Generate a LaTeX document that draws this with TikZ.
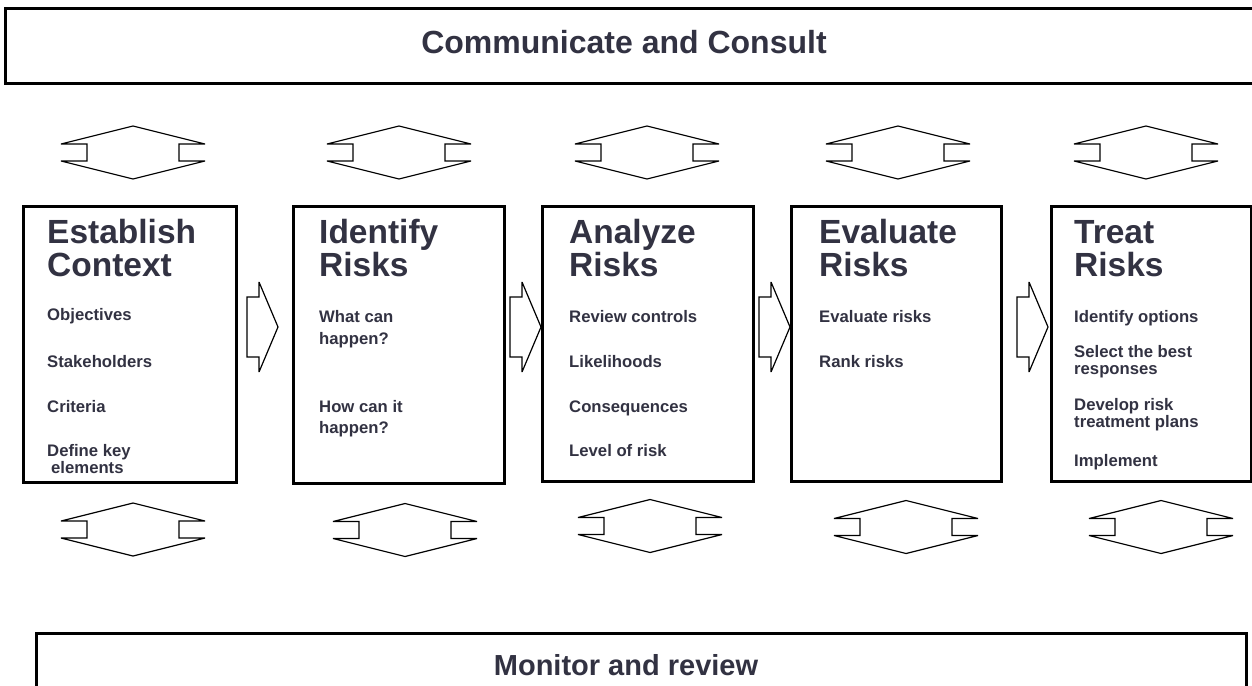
\documentclass[tikz,border=0pt]{standalone}
\usepackage{fontspec}
\setmainfont{Liberation Sans}
\definecolor{txt}{RGB}{50,50,66}
\begin{document}
\begin{tikzpicture}[x=1pt,y=-1pt,
  bigbox/.style={draw=black,line width=2.6pt,fill=white,inner sep=0pt,anchor=north west},
  procbox/.style={draw=black,line width=2.6pt,fill=white,inner sep=0pt,anchor=north west},
  hdr/.style={font=\fontsize{32}{32}\selectfont\bfseries,text=txt,inner sep=0pt,anchor=base},
  ttl/.style={font=\fontsize{33.5}{31}\selectfont\bfseries,text=txt,inner sep=0pt,anchor=base west},
  itm/.style={font=\fontsize{16.7}{17}\selectfont\bfseries,text=txt,inner sep=0pt,anchor=base west},
  arrowline/.style={draw=black,line width=1.2pt,line join=miter,miter limit=1.5,fill=white},
  updown/.pic={\path[arrowline] (0,-26.5) -- (72,-8.5) -- (46,-8.5) -- (46,8.5) -- (72,8.5) -- (0,26.5) -- (-72,8.5) -- (-46,8.5) -- (-46,-8.5) -- (-72,-8.5) -- cycle;},
  rightarrow/.pic={\path[arrowline] (0,0) -- (-19,-45) -- (-19,-30) -- (-31,-30) -- (-31,30) -- (-19,30) -- (-19,45) -- cycle;}
]
\useasboundingbox (0,0) rectangle (1252,685);
\clip (0,0) rectangle (1252,685);
\fill[white] (0,0) rectangle (1252,685);

% top and bottom bands
\node[bigbox,minimum width=1265pt,minimum height=75pt] (cc) at (4,7) {};
\node[hdr] (cctext) at (624,54) {Communicate and Consult};
\node[bigbox,minimum width=1210pt,minimum height=80pt] (mr) at (35,632) {};
\node[hdr,font=\fontsize{29}{29}\selectfont\bfseries] (mrtext) at (626,675) {Monitor and review};

% process boxes
\node[procbox,minimum width=213pt,minimum height=276pt] (b1) at (22,205) {};
\node[procbox,minimum width=211pt,minimum height=277pt] (b2) at (292,205) {};
\node[procbox,minimum width=211pt,minimum height=275pt] (b3) at (541,205) {};
\node[procbox,minimum width=210pt,minimum height=275pt] (b4) at (790,205) {};
\node[procbox,minimum width=200pt,minimum height=275pt] (b5) at (1050,205) {};

% block arrows between boxes
\pic (r1) at (278,327) {rightarrow};
\pic (r2) at (541,327) {rightarrow};
\pic (r3) at (790,327) {rightarrow};
\pic (r4) at (1048,327) {rightarrow};

% up-down arrows
\pic (u1) at (133,152.5) {updown};
\pic (u2) at (399,152.5) {updown};
\pic (u3) at (647,152.5) {updown};
\pic (u4) at (898,152.5) {updown};
\pic (u5) at (1146,152.5) {updown};
\pic (d1) at (133,529.5) {updown};
\pic (d2) at (405,530) {updown};
\pic (d3) at (650,526) {updown};
\pic (d4) at (906,527) {updown};
\pic (d5) at (1161,527) {updown};

% box 1
\node[ttl] (t1a) at (47,243) {Establish};
\node[ttl] (t1b) at (47,276) {Context};
\node[itm] (i1a) at (47,320) {Objectives};
\node[itm] (i1b) at (47,367) {Stakeholders};
\node[itm] (i1c) at (47,412) {Criteria};
\node[itm] (i1d) at (47,456) {Define key};
\node[itm] (i1e) at (51,473) {elements};

% box 2
\node[ttl] (t2a) at (319,243) {Identify};
\node[ttl] (t2b) at (319,276) {Risks};
\node[itm] (i2a) at (319,322) {What can};
\node[itm] (i2b) at (319,344) {happen?};
\node[itm] (i2c) at (319,412) {How can it};
\node[itm] (i2d) at (319,433) {happen?};

% box 3
\node[ttl] (t3a) at (569,243) {Analyze};
\node[ttl] (t3b) at (569,276) {Risks};
\node[itm] (i3a) at (569,322) {Review controls};
\node[itm] (i3b) at (569,367) {Likelihoods};
\node[itm] (i3c) at (569,412) {Consequences};
\node[itm] (i3d) at (569,456) {Level of risk};

% box 4
\node[ttl] (t4a) at (819,243) {Evaluate};
\node[ttl] (t4b) at (819,276) {Risks};
\node[itm] (i4a) at (819,322) {Evaluate risks};
\node[itm] (i4b) at (819,367) {Rank risks};

% box 5
\node[ttl] (t5a) at (1074,243) {Treat};
\node[ttl] (t5b) at (1074,276) {Risks};
\node[itm] (i5a) at (1074,322) {Identify options};
\node[itm] (i5b) at (1074,357) {Select the best};
\node[itm] (i5c) at (1074,374) {responses};
\node[itm] (i5d) at (1074,410) {Develop risk};
\node[itm] (i5e) at (1074,427) {treatment plans};
\node[itm] (i5f) at (1074,466) {Implement};
\end{tikzpicture}
\end{document}
